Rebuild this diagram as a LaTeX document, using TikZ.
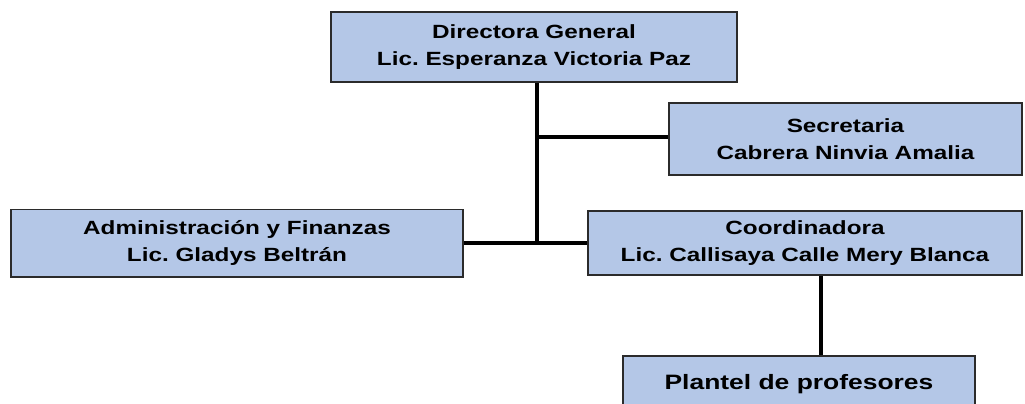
\documentclass[tikz,border=0pt]{standalone}
\usepackage{fontspec}
\setmainfont[FakeStretch=1.27]{Liberation Sans}
\usetikzlibrary{positioning, calc}
\usepackage{xcolor}
\definecolor{xbox}{HTML}{B4C7E7}
\definecolor{xedge}{HTML}{2B2B2B}
\tikzset{
	unitbox/.style={draw=xedge, line width=1.4pt, fill=xbox, align=center, inner sep=0pt,
		font=\fontsize{13.6}{19.5}\selectfont\bfseries},
	link/.style={line width=3pt, black},
}
\frenchspacing

\begin{document}
\begin{tikzpicture}[x=0.025cm, y=-0.025cm]
		\useasboundingbox (0,0) rectangle (1025,403);

		\node[unitbox, minimum width=10.15cm, minimum height=1.75cm] (dir) at (534,47) {Directora General\\Lic. Esperanza Victoria Paz};
		\node[unitbox, minimum width=8.825cm, minimum height=1.8cm] (sec) at (845.5,139) {Secretaria\\Cabrera Ninvia Amalia};
		\node[unitbox, minimum width=11.3cm, minimum height=1.675cm] (adm) at (237,243) {Administración y Finanzas\\Lic. Gladys Beltrán};
		\node[unitbox, minimum width=10.85cm, minimum height=1.6cm] (coo) at (805,243) {Coordinadora\\Lic. Callisaya Calle Mery Blanca};
		\node[unitbox, minimum width=8.8cm, minimum height=1.4cm, font=\fontsize{14.8}{19}\selectfont\bfseries] (pla) at (799,384) {Plantel de profesores};

		\coordinate (j1) at (537,137);
		\coordinate (j2) at (537,243);

		\draw[link] (dir.south -| j1) -- (j2);
		\draw[link] (j1) -- (j1 -| sec.west);
		\draw[link] (adm.east) -- (coo.west);
		\draw[link] ([xshift=0.4cm]coo.south) -- ([xshift=0.4cm]coo.south |- pla.north);
	\end{tikzpicture}
\end{document}
